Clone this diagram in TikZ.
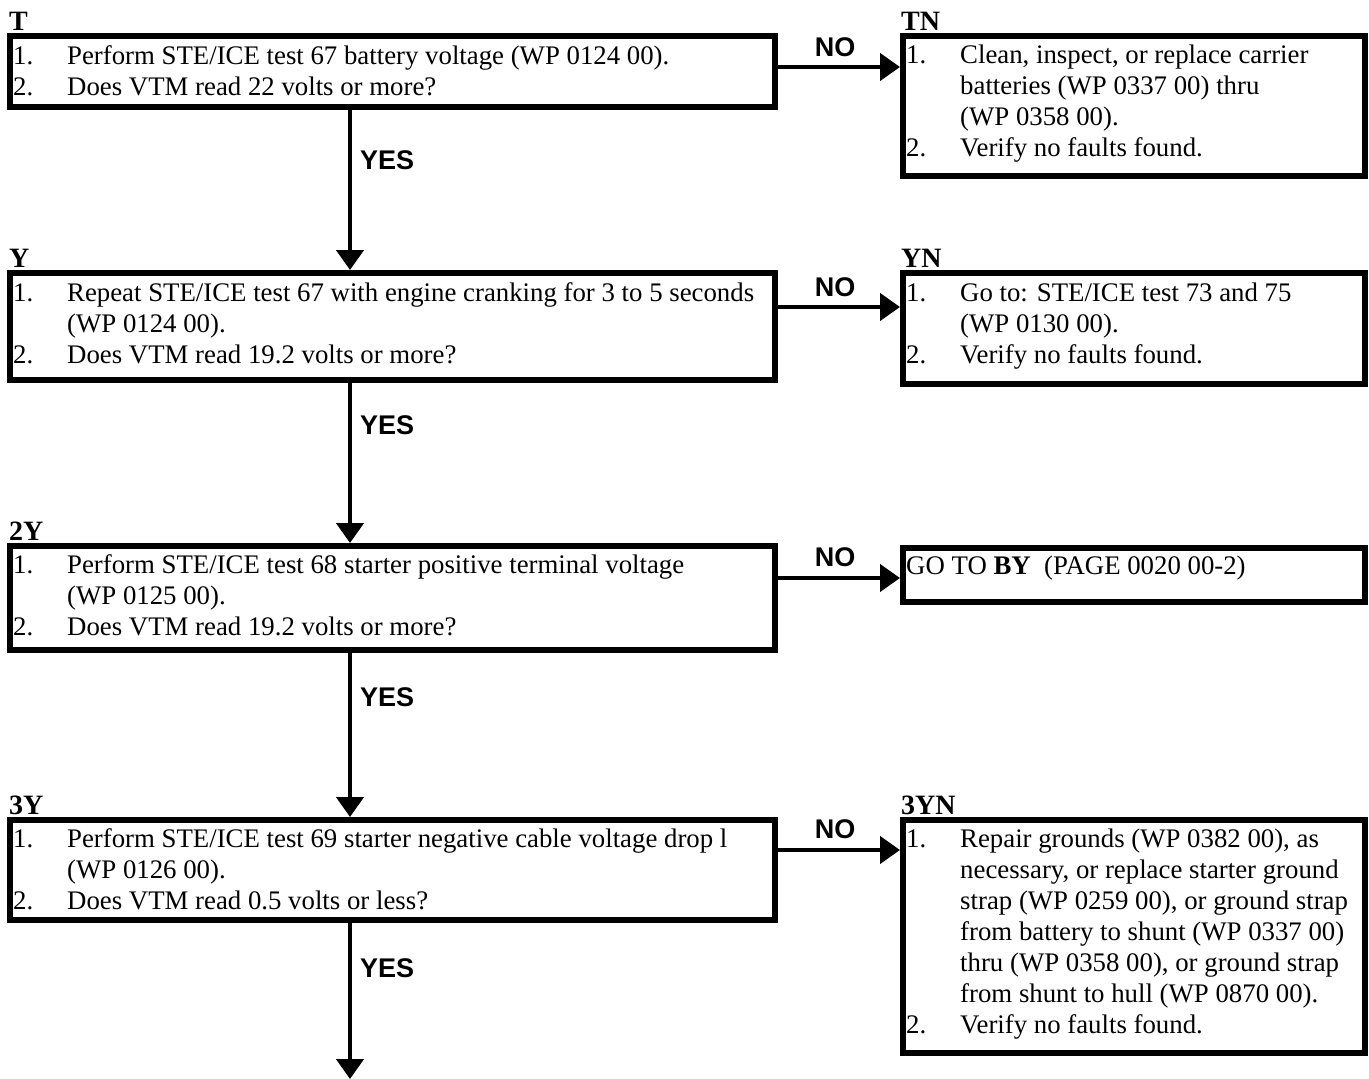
\documentclass[tikz,border=0pt]{standalone}
\usepackage{fontspec}
\setmainfont{Liberation Serif}
\newfontfamily\lsans{Liberation Sans}
\usetikzlibrary{arrows.meta}
\tikzset{
  boxst/.style={draw, line width=6pt, inner sep=0pt, anchor=north west},
  txt/.style={anchor=base west, inner sep=0pt, font=\fontsize{26.8}{31}\selectfont},
  lbl/.style={anchor=base west, inner sep=0pt, font=\fontsize{28}{30}\selectfont\bfseries},
  yn/.style={inner sep=0pt, font=\fontsize{27}{30}\selectfont\lsans\bfseries},
  arr/.style={line width=4.5pt, -{Triangle[length=20pt,width=27pt]}}
}
\newcommand\items[1]{\begin{tabular}[t]{@{}p{54pt}@{}l@{}}#1\end{tabular}}
\begin{document}
\begin{tikzpicture}[x=1pt,y=-1pt]
\useasboundingbox (0,0) rectangle (1369,1079);
% boxes
\node[boxst, minimum width=765pt, minimum height=71pt] (T) at (7,33) {};
\node[boxst, minimum width=462pt, minimum height=140pt] (TN) at (900,33) {};
\node[boxst, minimum width=765pt, minimum height=107pt] (Y) at (7,270) {};
\node[boxst, minimum width=462pt, minimum height=111pt] (YN) at (900,270) {};
\node[boxst, minimum width=765pt, minimum height=104pt] (Y2) at (7,543) {};
\node[boxst, minimum width=462pt, minimum height=54pt] (GO) at (900,545) {};
\node[boxst, minimum width=765pt, minimum height=100pt] (Y3) at (7,817) {};
\node[boxst, minimum width=462pt, minimum height=233pt] (Y3N) at (900,817) {};
% labels
\node[lbl] (lT) at (9,30) {T};
\node[lbl] (lTN) at (901,30) {TN};
\node[lbl] (lY) at (9,267) {Y};
\node[lbl] (lYN) at (901,267) {YN};
\node[lbl] (lY2) at (9,540) {2Y};
\node[lbl] (lY3) at (9,814) {3Y};
\node[lbl] (lY3N) at (901,814) {3YN};
% texts
\node[txt] (tT) at (13,64) {\items{1.&Perform STE/ICE test 67 battery voltage (WP 0124 00).\\2.&Does VTM read 22 volts or more?}};
\node[txt] (tTN) at (906,63) {\items{1.&Clean, inspect, or replace carrier\\&batteries (WP 0337 00) thru\\&(WP 0358 00).\\2.&Verify no faults found.}};
\node[txt] (tY) at (13,301) {\items{1.&Repeat STE/ICE test 67 with engine cranking for 3 to 5 seconds\\&(WP 0124 00).\\2.&Does VTM read 19.2 volts or more?}};
\node[txt] (tYN) at (906,301) {\items{1.&Go to: STE/ICE test 73 and 75\\&(WP 0130 00).\\2.&Verify no faults found.}};
\node[txt] (tY2) at (13,573) {\items{1.&Perform STE/ICE test 68 starter positive terminal voltage\\&(WP 0125 00).\\2.&Does VTM read 19.2 volts or more?}};
\node[txt] (tGO) at (906,574) {GO TO \textbf{BY}\ \ (PAGE 0020 00-2)};
\node[txt] (tY3) at (13,847) {\items{1.&Perform STE/ICE test 69 starter negative cable voltage drop l\\&(WP 0126 00).\\2.&Does VTM read 0.5 volts or less?}};
\node[txt] (tY3N) at (906,847) {\items{1.&Repair grounds (WP 0382 00), as\\&necessary, or replace starter ground\\&strap (WP 0259 00), or ground strap\\&from battery to shunt (WP 0337 00)\\&thru (WP 0358 00), or ground strap\\&from shunt to hull (WP 0870 00).\\2.&Verify no faults found.}};
% connectors
\coordinate (endp) at (350,1079);
\draw[arr] (T.east |- 0,67) -- (TN.west |- 0,67);
\draw[arr] (Y.east |- 0,307) -- (YN.west |- 0,307);
\draw[arr] (Y2.east |- 0,578) -- (GO.west |- 0,578);
\draw[arr] (Y3.east |- 0,850) -- (Y3N.west |- 0,850);
\draw[arr] (T.south -| 350,0) -- (Y.north -| 350,0);
\draw[arr] (Y.south -| 350,0) -- (Y2.north -| 350,0);
\draw[arr] (Y2.south -| 350,0) -- (Y3.north -| 350,0);
\draw[arr] (Y3.south -| 350,0) -- (endp);
% connector labels
\node[yn] (no1) at (835,47) {NO};
\node[yn] (no2) at (835,287) {NO};
\node[yn] (no3) at (835,557) {NO};
\node[yn] (no4) at (835,829) {NO};
\node[yn, anchor=west] (yes1) at (360,160) {YES};
\node[yn, anchor=west] (yes2) at (360,425) {YES};
\node[yn, anchor=west] (yes3) at (360,697) {YES};
\node[yn, anchor=west] (yes4) at (360,968) {YES};
\end{tikzpicture}
\end{document}
